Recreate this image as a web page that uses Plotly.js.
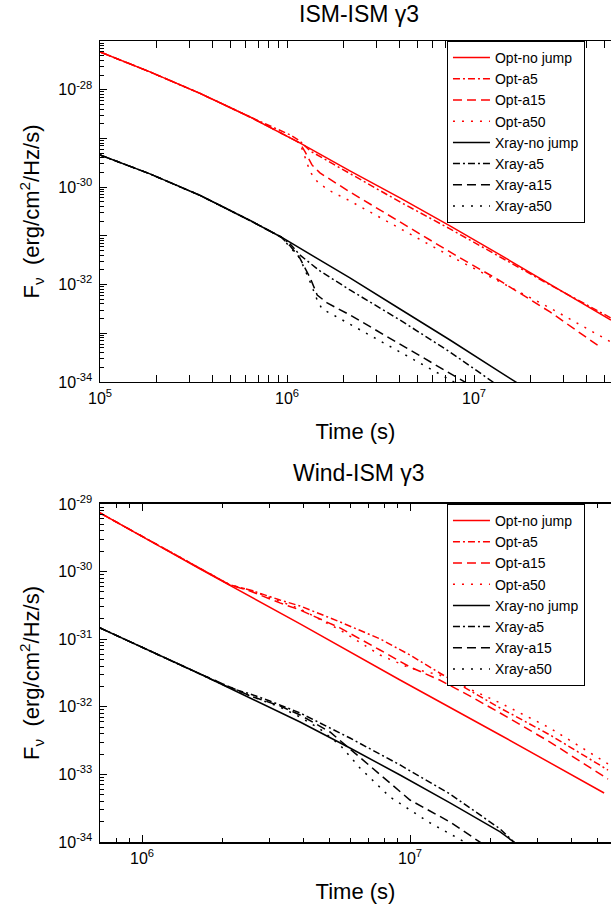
<!DOCTYPE html>
<html>
<head>
<meta charset="utf-8">
<script src="https://cdn.plot.ly/plotly-3.0.1.min.js"></script>
<style>html,body{margin:0;padding:0;background:#fff;}#chart{width:611px;height:909px;}</style>
</head>
<body>
<div id="chart"></div>
<script>
// ---------- Top panel: ISM-ISM gamma3 ----------
const tTopOptNoJump = [1e5,1.85e5,3.43e5,6.34e5,1.17e6,2.17e6,4.02e6,7.44e6,1.38e7,2.55e7,5.40e7];
const fTopOptNoJump = [5.97e-28,2.32e-28,8.39e-29,2.76e-29,8.09e-30,2.15e-30,6.00e-31,1.60e-31,4.06e-32,1.03e-32,1.87e-33];
const tTopOptA5 = [1e5,1.85e5,3.43e5,6.34e5,1.04e6,1.17e6,1.33e6,2.17e6,4.02e6,7.44e6,1.38e7,2.55e7,5.40e7];
const fTopOptA5 = [5.97e-28,2.32e-28,8.39e-29,2.76e-29,1.18e-29,8.89e-30,5.53e-30,1.87e-30,4.97e-31,1.39e-31,3.69e-32,9.82e-33,2.06e-33];
const tTopOptA15 = [1e5,1.85e5,3.43e5,6.34e5,1.04e6,1.17e6,1.25e6,1.36e6,1.50e6,2.17e6,4.02e6,7.44e6,1.38e7,2.55e7,4.72e7];
const fTopOptA15 = [5.97e-28,2.32e-28,8.39e-29,2.76e-29,1.03e-29,8.09e-30,5.28e-30,2.86e-30,1.96e-30,7.96e-31,1.93e-31,4.67e-32,1.19e-32,2.74e-33,5.24e-34];
const tTopOptA50 = [1e5,1.85e5,3.43e5,6.34e5,1.04e6,1.17e6,1.22e6,1.33e6,1.47e6,1.70e6,2.17e6,4.02e6,7.44e6,1.38e7,2.55e7,5.40e7];
const fTopOptA50 = [5.97e-28,2.32e-28,8.39e-29,2.76e-29,1.03e-29,8.09e-30,5.28e-30,2.05e-30,1.22e-30,8.36e-31,5.21e-31,1.39e-31,3.86e-32,1.13e-32,3.31e-33,6.62e-34];

const tTopXNoJump = [1e5,1.85e5,3.43e5,6.34e5,9.29e5,1.17e6,2.17e6,4.02e6,7.44e6,1.38e7,1.68e7,1.99e7];
const fTopXNoJump = [4.58e-30,1.87e-30,6.76e-31,2.07e-31,9.48e-32,5.65e-32,1.37e-32,3.15e-33,7.28e-34,1.60e-34,1.00e-34,6.53e-35];
const tTopXA5 = [1e5,1.85e5,3.43e5,6.34e5,9.29e5,1.04e6,1.17e6,1.50e6,2.17e6,4.02e6,7.44e6,1.26e7,1.56e7];
const fTopXA5 = [4.58e-30,1.87e-30,6.76e-31,2.07e-31,9.48e-32,6.82e-32,4.06e-32,1.90e-32,7.74e-33,1.87e-33,4.13e-34,1.00e-34,5.67e-35];
const tTopXA15 = [1e5,1.85e5,3.43e5,6.34e5,9.29e5,1.04e6,1.17e6,1.33e6,1.45e6,1.64e6,2.17e6,4.02e6,9.06e6,1.08e7];
const fTopXA15 = [4.58e-30,1.87e-30,6.76e-31,2.07e-31,9.48e-32,6.21e-32,3.52e-32,1.37e-32,6.11e-33,4.19e-33,2.38e-33,6.03e-34,1.00e-34,6.53e-35];
const tTopXA50 = [1e5,1.85e5,3.43e5,6.34e5,9.29e5,1.04e6,1.17e6,1.33e6,1.45e6,1.54e6,1.81e6,4.02e6,7.72e6,9.53e6];
const fTopXA50 = [4.58e-30,1.87e-30,6.76e-31,2.07e-31,9.48e-32,5.92e-32,3.52e-32,1.13e-32,4.83e-33,3.15e-33,2.26e-33,4.13e-34,1.00e-34,6.53e-35];

// ---------- Bottom panel: Wind-ISM gamma3 ----------
const tBotOptNoJump = [6.97e5,1.65e6,3.89e6,9.18e6,2.17e7,5.30e7];
const fBotOptNoJump = [7.36e-30,1.09e-30,1.68e-31,2.49e-32,3.83e-33,5.31e-34];
const tBotOpt = [6.97e5,1.65e6,2.13e6,2.53e6,3.27e6,3.89e6,5.48e6,7.73e6,1.00e7,1.29e7,1.67e7,2.17e7,3.33e7,5.48e7];
const fBotOptA5 = [7.36e-30,1.09e-30,6.34e-31,5.35e-31,3.80e-31,3.10e-31,1.80e-31,1.01e-31,5.83e-32,3.16e-32,1.77e-32,9.59e-33,3.83e-33,1.16e-33];
const fBotOptA15 = [7.36e-30,1.09e-30,6.34e-31,5.16e-31,3.44e-31,2.70e-31,1.47e-31,6.92e-32,3.88e-32,2.49e-32,1.45e-32,8.09e-33,3.01e-33,8.55e-34];
const fBotOptA50 = [7.36e-30,1.09e-30,6.34e-31,5.35e-31,3.67e-31,2.80e-31,1.37e-31,5.83e-32,3.75e-32,2.95e-32,1.83e-32,1.14e-32,4.85e-33,1.43e-33];

const tBotXNoJump = [6.97e5,1.07e6,1.65e6,2.53e6,3.89e6,5.97e6,9.18e6,1.41e7,2.17e7,2.44e7,2.81e7];
const fBotXNoJump = [1.47e-31,6.68e-32,3.05e-32,1.35e-32,5.96e-33,2.46e-33,9.79e-34,3.78e-34,1.41e-34,1.00e-34,7.11e-35];
const tBotXA5 = [6.97e5,1.07e6,1.65e6,2.13e6,2.53e6,3.00e6,3.89e6,5.97e6,9.18e6,1.41e7,2.17e7,2.44e7,2.81e7];
const fBotXA5 = [1.47e-31,6.68e-32,3.05e-32,1.90e-32,1.55e-32,1.22e-32,8.09e-33,3.45e-33,1.38e-33,5.13e-34,1.56e-34,1.00e-34,6.87e-35];
const tBotXA15 = [6.97e5,1.07e6,1.65e6,2.53e6,3.27e6,3.89e6,5.03e6,5.97e6,7.73e6,1.00e7,1.41e7,1.82e7,2.07e7];
const fBotXA15 = [1.47e-31,6.68e-32,3.05e-32,1.45e-32,1.03e-32,7.57e-33,4.24e-33,2.38e-33,1.01e-33,4.18e-34,1.98e-34,1.00e-34,7.11e-35];
const tBotXA50 = [6.97e5,1.07e6,1.65e6,2.53e6,3.27e6,3.89e6,4.61e6,5.48e6,6.51e6,8.42e6,1.19e7,1.60e7,1.82e7];
const fBotXA50 = [1.47e-31,6.68e-32,3.05e-32,1.45e-32,9.93e-33,7.06e-33,4.70e-33,2.72e-33,1.24e-33,4.63e-34,1.91e-34,1.00e-34,7.11e-35];

const seriesNames = ['Opt-no jump','Opt-a5','Opt-a15','Opt-a50','Xray-no jump','Xray-a5','Xray-a15','Xray-a50'];
const topTitle = 'ISM-ISM \u03b33';
const botTitle = 'Wind-ISM \u03b33';
const xTitle = 'Time (s)';
const yTitle = 'F<sub>\u03bd</sub>  (erg/cm<sup>2</sup>/Hz/s)';
// tick exponents
const xTopLabelExp = [5, 6, 7];
const xBotLabelExp = [6, 7];
const yTopLabelExp = [-34, -32, -30, -28];
const yTopUnlabeledExp = [-33, -31, -29, -27];
const yBotLabelExp = [-34, -33, -32, -31, -30, -29];

const FONT = 'Arial, "Liberation Sans", sans-serif';
const RED = 'rgb(255,0,0)';
const BLACK = 'rgb(0,0,0)';
const DASHES = ['solid', '7px,3px,2px,3px', '9px,5px', '2px,7px'];

function mk(t, f, idx, color, panel) {
  const top = panel === 0;
  return {
    x: t, y: f, type: 'scatter', mode: 'lines',
    name: seriesNames[idx],
    xaxis: top ? 'x' : 'x2', yaxis: top ? 'y' : 'y2',
    legend: top ? 'legend' : 'legend2',
    line: {color: color, width: 1.5, dash: DASHES[idx % 4]},
    hoverinfo: 'skip'
  };
}

const traces = [
  mk(tTopOptNoJump, fTopOptNoJump, 0, RED, 0),
  mk(tTopOptA5, fTopOptA5, 1, RED, 0),
  mk(tTopOptA15, fTopOptA15, 2, RED, 0),
  mk(tTopOptA50, fTopOptA50, 3, RED, 0),
  mk(tTopXNoJump, fTopXNoJump, 4, BLACK, 0),
  mk(tTopXA5, fTopXA5, 5, BLACK, 0),
  mk(tTopXA15, fTopXA15, 6, BLACK, 0),
  mk(tTopXA50, fTopXA50, 7, BLACK, 0),
  mk(tBotOptNoJump, fBotOptNoJump, 0, RED, 1),
  mk(tBotOpt, fBotOptA5, 1, RED, 1),
  mk(tBotOpt, fBotOptA15, 2, RED, 1),
  mk(tBotOpt, fBotOptA50, 3, RED, 1),
  mk(tBotXNoJump, fBotXNoJump, 4, BLACK, 1),
  mk(tBotXA5, fBotXA5, 5, BLACK, 1),
  mk(tBotXA15, fBotXA15, 6, BLACK, 1),
  mk(tBotXA50, fBotXA50, 7, BLACK, 1)
];

function minorVals(d0, d1) {
  const v = [];
  for (let d = d0; d <= d1; d++) for (let m = 2; m <= 9; m++) v.push(m * Math.pow(10, d));
  return v;
}
const pow10 = e => Math.pow(10, e);
const supLabel = e => '10<sup>' + e + '</sup>';

function xAxis(range, exps, minor, anchor) {
  return {
    type: 'log', range: range, anchor: anchor, domain: [0, 1],
    showline: true, linecolor: BLACK, linewidth: 1.5, mirror: 'allticks',
    ticks: 'inside', ticklen: 7, tickwidth: 1, tickcolor: BLACK,
    tickmode: 'array', tickvals: exps.map(pow10), ticktext: exps.map(supLabel),
    ticklabelstandoff: 1,
    minor: {tickmode: 'array', tickvals: minor, ticks: 'inside', ticklen: 4, tickwidth: 1, tickcolor: BLACK, showgrid: false},
    showgrid: false, zeroline: false,
    tickfont: {family: FONT, size: 16, color: BLACK},
    title: {text: xTitle, font: {family: FONT, size: 22, color: BLACK}, standoff: 18}
  };
}
function yAxis(range, exps, minor, domain, anchor) {
  return {
    type: 'log', range: range, domain: domain, anchor: anchor,
    showline: true, linecolor: BLACK, linewidth: 1.5, mirror: false,
    ticks: 'inside', ticklen: 7, tickwidth: 1, tickcolor: BLACK,
    tickmode: 'array', tickvals: exps.map(pow10), ticktext: exps.map(supLabel),
    ticklabelstandoff: 3,
    minor: {tickmode: 'array', tickvals: minor, ticks: 'inside', ticklen: 4, tickwidth: 1, tickcolor: BLACK, showgrid: false},
    showgrid: false, zeroline: false,
    tickfont: {family: FONT, size: 16, color: BLACK},
    title: {text: yTitle, font: {family: FONT, size: 22, color: BLACK}, standoff: 12}
  };
}

const legendBase = {
  xref: 'paper', yref: 'paper', x: 0.679, xanchor: 'left', yanchor: 'top',
  bgcolor: 'rgba(255,255,255,1)', bordercolor: BLACK, borderwidth: 1,
  font: {family: FONT, size: 14, color: BLACK}, itemwidth: 37, tracegroupgap: 0
};

const layout = {
  width: 611, height: 909,
  margin: {l: 100, r: 0, t: 41, b: 67, pad: 0},
  paper_bgcolor: '#fff', plot_bgcolor: '#fff',
  font: {family: FONT, color: BLACK},
  showlegend: true,
  xaxis: xAxis([5, 7.7326], xTopLabelExp, minorVals(5, 7), 'y'),
  yaxis: yAxis([-34, -27], yTopLabelExp, minorVals(-34, -28), [0.5743, 1], 'x'),
  // extra overlay axis: unlabeled major ticks at the odd decades of the top panel
  yaxis3: {
    type: 'log', range: [-34, -27], overlaying: 'y', anchor: 'x', side: 'left',
    showline: false, showgrid: false, zeroline: false, showticklabels: false,
    ticks: 'inside', ticklen: 7, tickwidth: 1, tickcolor: BLACK,
    tickmode: 'array', tickvals: yTopUnlabeledExp.map(pow10)
  },
  xaxis2: xAxis([5.8433, 7.75], xBotLabelExp, minorVals(5, 7), 'y2'),
  yaxis2: yAxis([-34, -29], yBotLabelExp, minorVals(-34, -30), [0, 0.422], 'x2'),
  legend: Object.assign({}, legendBase, {y: 1}),
  legend2: Object.assign({}, legendBase, {y: 0.422}),
  annotations: [
    {text: topTitle, xref: 'paper', yref: 'paper', x: 0.507, y: 1.0335, xanchor: 'center', yanchor: 'middle', showarrow: false, font: {family: FONT, size: 23, color: BLACK}},
    {text: botTitle, xref: 'paper', yref: 'paper', x: 0.507, y: 0.4607, xanchor: 'center', yanchor: 'middle', showarrow: false, font: {family: FONT, size: 23, color: BLACK}}
  ]
};

// an invisible trace so that the overlay tick axis is drawn
traces.push({x: [1e6], y: [1e-30], xaxis: 'x', yaxis: 'y3', type: 'scatter', mode: 'markers',
  marker: {opacity: 0, size: 1}, showlegend: false, hoverinfo: 'skip'});

Plotly.newPlot('chart', traces, layout, {staticPlot: true, displayModeBar: false});
</script>
</body>
</html>
